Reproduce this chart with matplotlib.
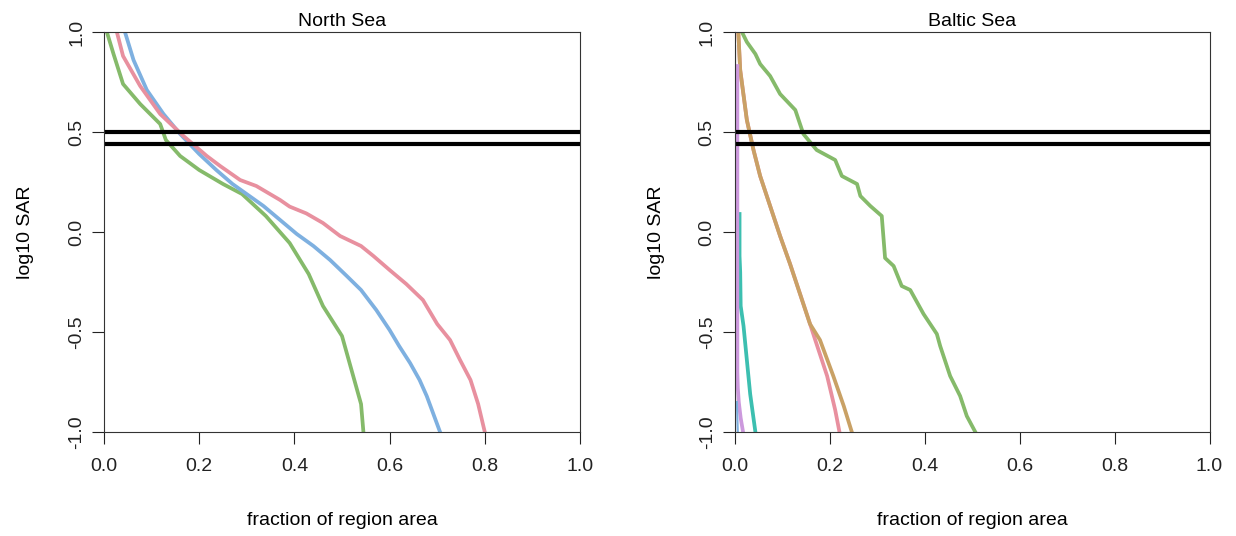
import numpy as np
import matplotlib.pyplot as plt

plt.rcParams['font.family'] = ['Liberation Sans', 'DejaVu Sans']

# North Sea curves (fraction of region area, log10 SAR)
ns_green_x = [0.0, 0.006, 0.02, 0.04, 0.076, 0.118, 0.13, 0.16, 0.20, 0.25, 0.29, 0.34, 0.39, 0.43, 0.46, 0.50, 0.52, 0.54, 0.545]
ns_green_y = [1.05, 1.0, 0.89, 0.74, 0.64, 0.54, 0.46, 0.38, 0.31, 0.24, 0.19, 0.08, -0.055, -0.21, -0.37, -0.52, -0.69, -0.86, -1.0]

ns_blue_x = [0.04, 0.044, 0.062, 0.09, 0.125, 0.16, 0.20, 0.236, 0.27, 0.335, 0.37, 0.405, 0.44, 0.475, 0.51,
             0.54, 0.572, 0.60, 0.62, 0.643, 0.663, 0.678, 0.706]
ns_blue_y = [1.05, 1.0, 0.86, 0.71, 0.59, 0.49, 0.39, 0.31, 0.24, 0.13, 0.06, -0.01, -0.07, -0.14, -0.22,
             -0.29, -0.39, -0.49, -0.57, -0.655, -0.74, -0.82, -1.0]

ns_pink_x = [0.024, 0.027, 0.04, 0.076, 0.118, 0.167, 0.216, 0.244, 0.286, 0.32, 0.37, 0.39, 0.425, 0.46, 0.496,
             0.54, 0.566, 0.60, 0.635, 0.67, 0.70, 0.727, 0.748, 0.77, 0.786, 0.80]
ns_pink_y = [1.05, 1.0, 0.88, 0.73, 0.59, 0.48, 0.38, 0.33, 0.26, 0.23, 0.16, 0.127, 0.093, 0.045, -0.02,
             -0.07, -0.12, -0.19, -0.26, -0.34, -0.46, -0.54, -0.64, -0.74, -0.86, -1.0]

# Baltic Sea curves
bs_green_x = [0.013, 0.0156, 0.026, 0.044, 0.054, 0.075, 0.096, 0.128, 0.145, 0.173, 0.212, 0.226, 0.258, 0.265,
              0.286, 0.31, 0.317, 0.335, 0.352, 0.37, 0.398, 0.426, 0.433, 0.454, 0.475, 0.489, 0.507]
bs_green_y = [1.05, 1.0, 0.95, 0.89, 0.84, 0.78, 0.69, 0.61, 0.49, 0.41, 0.36, 0.28, 0.24, 0.18,
              0.13, 0.08, -0.13, -0.17, -0.27, -0.29, -0.41, -0.51, -0.57, -0.72, -0.82, -0.92, -1.0]

bs_pink_x = [0.007, 0.008, 0.012, 0.026, 0.04, 0.054, 0.075, 0.096, 0.117, 0.138, 0.159, 0.17, 0.195, 0.212, 0.221]
bs_pink_y = [1.05, 1.0, 0.81, 0.56, 0.41, 0.28, 0.13, -0.02, -0.16, -0.31, -0.46, -0.54, -0.72, -0.89, -1.0]

bs_tan_x = [0.007, 0.008, 0.012, 0.026, 0.04, 0.054, 0.075, 0.096, 0.117, 0.138, 0.159, 0.18, 0.208, 0.23, 0.247]
bs_tan_y = [1.05, 1.0, 0.81, 0.56, 0.41, 0.28, 0.13, -0.02, -0.16, -0.31, -0.46, -0.54, -0.72, -0.87, -1.0]

bs_teal_x = [0.0106, 0.0106, 0.012, 0.013, 0.019, 0.026, 0.033, 0.044]
bs_teal_y = [0.09, -0.12, -0.2, -0.37, -0.47, -0.64, -0.81, -1.0]

bs_purple_x = [0.006, 0.006, 0.007, 0.009, 0.013, 0.018]
bs_purple_y = [0.83, -0.7, -0.78, -0.85, -0.93, -1.0]

bs_black_x = [0.002, 0.002]
bs_black_y = [0.93, -1.0]

bs_blue_x = [0.005, 0.007]
bs_blue_y = [-0.85, -1.0]

thresholds = [0.5, 0.44]

PINK = '#E8909F'
BLUE = '#7EB0E0'
GREEN = '#85BA6A'
TAN = '#C9A165'
TEAL = '#3CBFB0'
PURPLE = '#CC99DD'

fig = plt.figure(figsize=(12.36, 5.36), dpi=100)
ax1 = fig.add_axes([104 / 1236, 104 / 536, 476 / 1236, 400 / 536])
ax2 = fig.add_axes([734.5 / 1236, 104 / 536, 475 / 1236, 400 / 536])

lw = 2.7
ax1.plot(ns_green_x, ns_green_y, color=GREEN, lw=lw)
ax1.plot(ns_blue_x, ns_blue_y, color=BLUE, lw=lw)
ax1.plot(ns_pink_x, ns_pink_y, color=PINK, lw=lw)

ax2.plot(bs_black_x, bs_black_y, color='black', lw=1.5)
ax2.plot(bs_pink_x, bs_pink_y, color=PINK, lw=lw)
ax2.plot(bs_tan_x, bs_tan_y, color=TAN, lw=lw)
ax2.plot(bs_green_x, bs_green_y, color=GREEN, lw=lw)
ax2.plot(bs_teal_x, bs_teal_y, color=TEAL, lw=lw)
ax2.plot(bs_purple_x, bs_purple_y, color=PURPLE, lw=lw)
ax2.plot(bs_blue_x, bs_blue_y, color=BLUE, lw=1.5)

for ax, title in [(ax1, 'North Sea'), (ax2, 'Baltic Sea')]:
    for t in thresholds:
        ax.axhline(t, color='black', lw=3)
    ax.set_xlim(0, 1)
    ax.set_ylim(-1, 1)
    ax.set_xticks(np.arange(0, 1.01, 0.2))
    ax.set_xticklabels(['0.0', '0.2', '0.4', '0.6', '0.8', '1.0'])
    ax.set_yticks([-1.0, -0.5, 0.0, 0.5, 1.0])
    ax.set_yticklabels(['-1.0', '-0.5', '0.0', '0.5', '1.0'], rotation=90, va='center')
    ax.tick_params(direction='out', length=8.5, width=0.8, colors='#222222', labelsize=14)
    ax.tick_params(axis='x', pad=10)
    ax.tick_params(axis='y', pad=5)
    for s in ax.spines.values():
        s.set_color('#333333')
        s.set_linewidth(0.8)
    ax.set_title(title, fontsize=14, pad=4)
    ax.set_xlabel('fraction of region area', fontsize=14, va='center')
    ax.set_ylabel('log10 SAR', fontsize=14, va='center')
    ax.xaxis.set_label_coords(0.5, -0.222)
    ax.yaxis.set_label_coords(-0.165, 0.5)

fig.savefig('out.png', dpi=100)
